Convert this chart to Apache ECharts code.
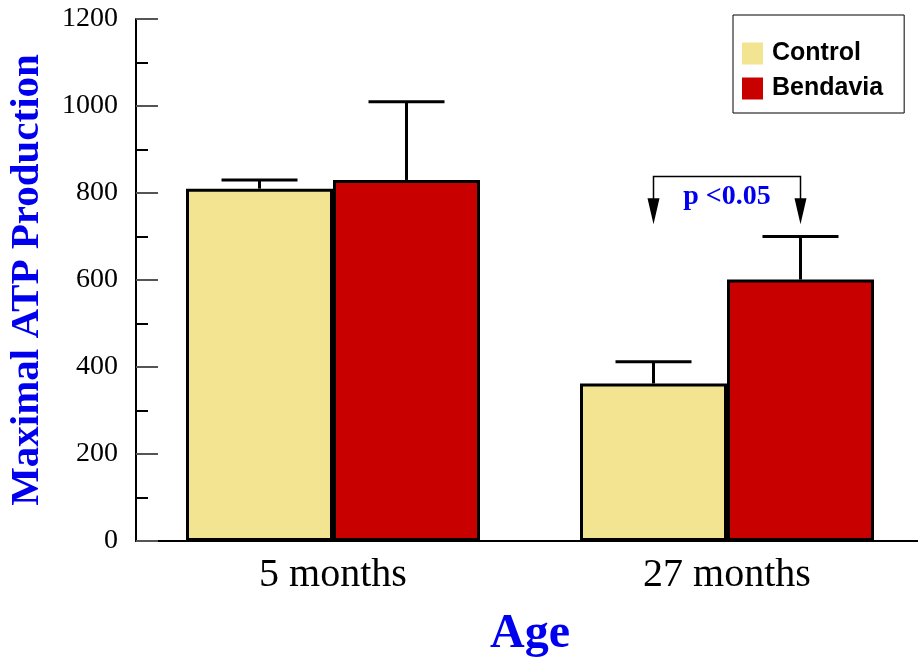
<!DOCTYPE html>
<html>
<head>
<meta charset="utf-8">
<script src="https://cdn.jsdelivr.net/npm/echarts@6/dist/echarts.min.js"></script>
<style>
  html, body { margin: 0; padding: 0; background: #fff; }
  #chart { width: 918px; height: 658px; }
</style>
</head>
<body>
<div id="chart"></div>
<script>
// 数据
const categories = ["5 months", "27 months"];
const controlValues = [810, 362];
const controlErrTop = [830, 412];
const bendaviaValues = [830, 601];
const bendaviaErrTop = [1010, 700];
const yTicks = [0, 200, 400, 600, 800, 1000, 1200];
// 显著性标注: 括号横线高度和箭头末端
const sigLabel = "p <0.05";
const sigLineY = 838;
const sigArrowY = 728;

const BAR_W = 147;
const serif = "Liberation Serif";

const chart = echarts.init(document.getElementById("chart"));

// 误差线 (只画上方)
function errRender(offset) {
  return function (params, api) {
    const base = api.coord([api.value(0), api.value(1)]);
    const top = api.coord([api.value(0), api.value(2)]);
    const x = base[0] + offset;
    return {
      type: "group",
      children: [
        { type: "line", shape: { x1: x, y1: base[1], x2: x, y2: top[1] },
          style: { stroke: "#000", lineWidth: 3 } },
        { type: "line", shape: { x1: x - 38, y1: top[1], x2: x + 38, y2: top[1] },
          style: { stroke: "#000", lineWidth: 3 } },
      ],
    };
  };
}

const option = {
  animation: false,
  grid: { left: 136, right: -6, top: 19, bottom: 117, outerBoundsMode: "none", containLabel: false },
  legend: {
    orient: "vertical",
    left: 733,
    top: 15,
    padding: [26, 21, 12, 9],
    icon: "rect",
    itemWidth: 21,
    itemHeight: 22,
    itemGap: 10,
    borderColor: "#000",
    borderWidth: 1,
    data: ["Control", "Bendavia"],
    itemStyle: { borderWidth: 0 },
    textStyle: {
      fontFamily: "Liberation Sans", fontWeight: "bold", fontSize: 25, color: "#000",
      lineHeight: 22, padding: [0, 0, 0, 4],
    },
  },
  xAxis: {
    type: "category",
    data: categories,
    name: "Age",
    nameLocation: "middle",
    nameGap: 70,
    nameTextStyle: { fontFamily: serif, fontWeight: "bold", fontSize: 48, color: "#0000ee" },
    axisLine: { lineStyle: { color: "#000", width: 2 } },
    axisTick: { show: false },
    axisLabel: { fontFamily: serif, fontSize: 40, color: "#000", margin: 14 },
  },
  yAxis: {
    type: "value",
    min: 0,
    max: 1200,
    interval: 200,
    name: "Maximal ATP Production",
    nameLocation: "middle",
    nameGap: 88,
    nameTextStyle: { fontFamily: serif, fontWeight: "bold", fontSize: 41, color: "#0000ee" },
    axisLine: { show: true, lineStyle: { color: "#000", width: 2 } },
    axisTick: { show: true, inside: true, length: 22, lineStyle: { color: "#555", width: 2 } },
    minorTick: { show: true, splitNumber: 2, length: 12, lineStyle: { color: "#000", width: 2 } },
    splitLine: { show: false },
    axisLabel: {
      fontFamily: serif, fontSize: 28, color: "#000", margin: 18,
      formatter: (v) => (yTicks.includes(v) ? String(v) : ""),
    },
  },
  series: [
    {
      name: "Control",
      type: "bar",
      barWidth: BAR_W,
      barGap: "0%",
      data: controlValues,
      itemStyle: { color: "#f3e492", borderColor: "#000", borderWidth: 3 },
    },
    {
      name: "Bendavia",
      type: "bar",
      barWidth: BAR_W,
      barGap: "0%",
      data: bendaviaValues,
      itemStyle: { color: "#c80000", borderColor: "#000", borderWidth: 3 },
    },
    {
      type: "custom",
      z: 1,
      renderItem: errRender(-BAR_W / 2),
      data: controlValues.map((v, i) => [i, v, controlErrTop[i]]),
    },
    {
      type: "custom",
      z: 1,
      renderItem: errRender(BAR_W / 2),
      data: bendaviaValues.map((v, i) => [i, v, bendaviaErrTop[i]]),
    },
    {
      // p值括号
      type: "custom",
      z: 5,
      data: [[1, sigLineY, sigArrowY]],
      renderItem: function (params, api) {
        const c = api.coord([api.value(0), api.value(1)]);
        const e = api.coord([api.value(0), api.value(2)]);
        const xl = c[0] - BAR_W / 2;
        const xr = c[0] + BAR_W / 2;
        const arrow = (x) => ({
          type: "polygon",
          shape: { points: [[x - 6, e[1] - 26], [x + 6, e[1] - 26], [x, e[1]]] },
          style: { fill: "#000" },
        });
        return {
          type: "group",
          children: [
            { type: "polyline", shape: { points: [[xl, e[1] - 20], [xl, c[1]], [xr, c[1]], [xr, e[1] - 20]] },
              style: { stroke: "#000", lineWidth: 1.5, fill: null } },
            arrow(xl),
            arrow(xr),
            { type: "text", x: c[0], y: c[1] + 20,
              style: { text: sigLabel, fill: "#0000ee", font: "bold 28px " + serif,
                       align: "center", verticalAlign: "middle" } },
          ],
        };
      },
    },
  ],
};

chart.setOption(option);
window.addEventListener("resize", () => chart.resize());
</script>
</body>
</html>
